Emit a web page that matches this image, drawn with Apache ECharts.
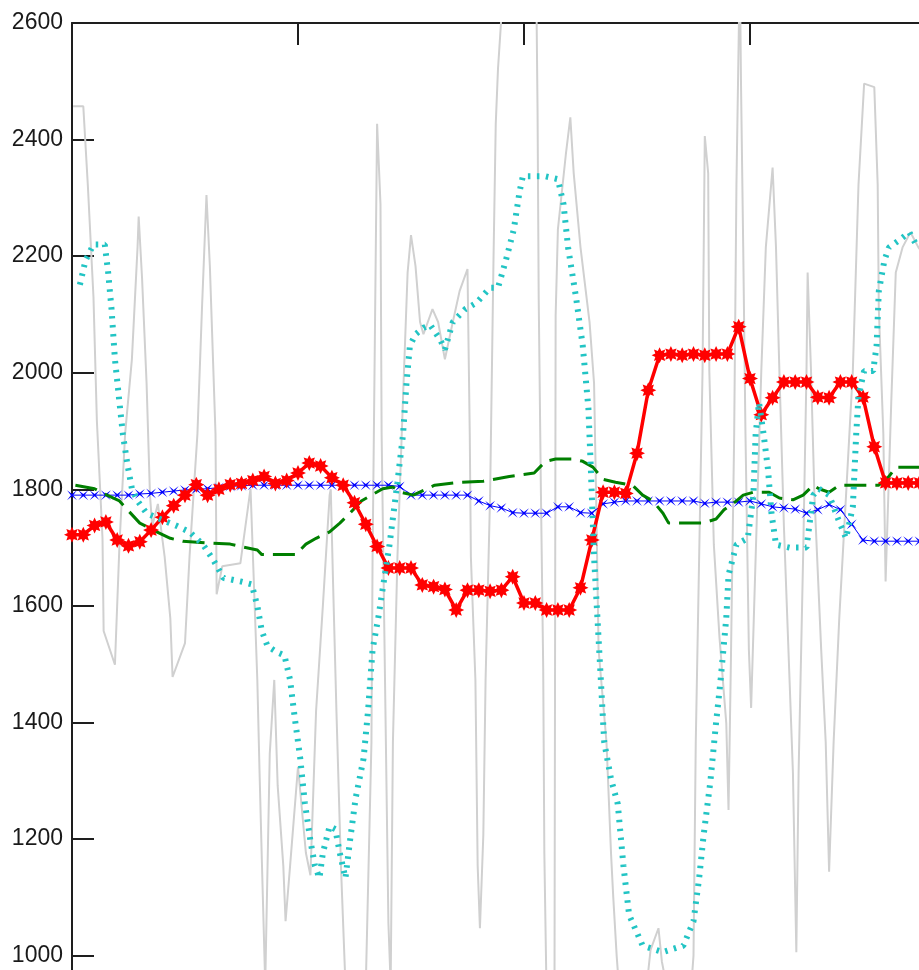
<!DOCTYPE html>
<html>
<head>
<meta charset="utf-8">
<script src="https://cdn.jsdelivr.net/npm/echarts@6.0.0/dist/echarts.min.js"></script>
<style>
html,body{margin:0;padding:0;background:#fff;overflow:hidden;}
#main{width:1000px;height:1100px;}
</style>
</head>
<body>
<div id="main"></div>
<script>
// y ticks
var yTicks = [1000, 1200, 1400, 1600, 1800, 2000, 2200, 2400, 2600];
// x ticks (top axis, unlabeled)
var xTicks = [0, 20, 40, 60, 80];

// red (*), one point per sample
var redVals = [1722,1722,1738,1744,1713,1703,1710,1730,1752,1772,
  1790,1808,1790,1800,1808,1810,1815,1822,1810,1815,
  1828,1845,1840,1820,1807,1777,1740,1702,1665,1665,
  1665,1636,1633,1628,1593,1627,1627,1625,1627,1650,
  1605,1605,1593,1593,1593,1631,1713,1795,1795,1793,
  1862,1970,2030,2032,2030,2032,2030,2032,2032,2079,
  1990,1928,1957,1984,1984,1984,1958,1957,1984,1984,
  1958,1873,1811,1811,1811,1811];

// blue (x), one point per sample
var blueVals = [1790,1790,1790,1790,1790,1790,1792,1793,1795,1797,
  1799,1800,1801,1803,1805,1806,1807,1807,1807,1807,
  1807,1807,1807,1807,1807,1807,1807,1807,1807,1805,
  1790,1790,1790,1790,1790,1790,1780,1772,1768,1760,
  1759,1759,1759,1770,1770,1760,1759,1775,1778,1780,
  1780,1780,1780,1780,1780,1780,1776,1778,1778,1778,
  1780,1775,1770,1768,1766,1759,1765,1774,1765,1740,
  1713,1711,1711,1711,1711,1711];

// gray (thin) line
var grayX = [0.1,1.0,1.4,1.9,2.2,2.7,2.8,3.8,4.2,4.7,
  5.3,5.8,5.9,6.2,6.6,6.9,7.1,7.6,8.2,8.7,
  8.9,10.0,10.4,11.1,11.5,11.9,12.2,12.7,12.8,13.3,
  14.9,15.8,15.9,16.4,16.6,16.8,17.1,17.5,17.9,18.2,
  18.7,18.9,19.3,20.0,20.7,21.1,21.6,22.2,22.8,22.9,
  23.1,23.4,23.8,24.2,25.5,26.0,26.5,26.6,26.8,27.0,
  27.3,27.4,27.7,28.0,28.2,28.4,28.8,29.3,29.7,30.0,
  30.4,30.8,31.1,31.9,32.4,33.0,33.7,34.3,35.0,35.2,
  35.3,35.7,35.9,36.1,36.4,36.6,37.0,37.3,37.5,37.7,
  38.1,41.1,41.2,41.3,41.5,41.7,41.8,42.0,42.7,42.8,
  43.0,43.7,44.1,44.4,45.0,45.8,46.2,46.4,46.6,47.3,
  47.7,47.9,48.2,48.5,50.7,51.2,51.9,52.2,52.9,54.7,
  55.0,55.2,55.5,55.8,56.0,56.3,56.4,56.8,57.3,57.9,
  58.1,58.3,58.6,58.8,59.1,59.2,59.4,59.6,59.9,60.1,
  60.5,61.0,61.4,62.0,62.3,62.6,63.0,63.5,63.8,64.1,
  64.3,64.7,65.0,65.1,65.4,65.7,66.3,66.7,67.0,67.4,
  67.9,68.5,69.1,69.6,70.1,71.0,71.3,71.4,71.8,72.0,
  72.5,72.9,73.5,74.2,74.9,75.5];
var grayY = [2457,2457,2322,2130,1918,1716,1557,1499,1705,1895,
  2023,2215,2268,2162,1982,1790,1737,1775,1684,1579,
  1478,1536,1684,1895,2109,2305,2183,1895,1620,1668,
  1673,1801,1800,1473,1313,1164,950,1346,1473,1292,
  1154,1059,1154,1324,1176,1138,1420,1600,1790,1800,
  1642,1420,1154,950,880,950,1366,1684,2055,2427,
  2289,1895,1473,1056,950,1366,1684,1960,2172,2236,
  2183,2087,2066,2109,2087,2023,2087,2140,2178,1895,
  1684,1473,1154,1047,1207,1473,1790,2193,2427,2522,
  2640,2640,2448,2130,1790,1493,1176,930,950,2098,
  2246,2374,2438,2342,2215,2087,1982,1770,1525,1366,
  1176,1100,1000,920,920,1010,1047,990,920,920,
  1000,1366,1684,2003,2406,2342,2003,1705,1546,1399,
  1250,1493,1895,2322,2700,2502,2215,1895,1525,1425,
  1684,2003,2215,2352,2215,2003,1737,1473,1313,1006,
  1313,1684,2003,2172,2003,1790,1525,1366,1144,1366,
  1579,1790,2003,2322,2496,2490,2322,2109,1895,1642,
  1949,2172,2215,2241,2215,2200];

// cyan dotted line
var cyanX = [0.7,1.2,1.9,2.9,3.2,3.5,3.8,4.2,4.5,4.9,
  5.3,5.8,6.6,7.8,9.3,10.4,11.6,12.5,13.4,14.9,
  15.9,16.4,16.8,17.3,18.1,18.8,19.3,19.7,20.2,20.6,
  21.1,21.5,21.9,22.2,22.8,23.3,23.7,24.2,24.6,25.1,
  25.8,26.2,26.6,27.1,27.5,28.1,28.8,29.3,29.6,29.9,
  30.4,31.1,31.7,32.6,33.0,33.7,34.8,35.8,37.0,37.7,
  38.4,39.1,39.6,39.9,41.9,43.0,43.5,43.9,44.6,45.2,
  45.7,45.9,46.2,46.5,46.8,47.1,47.7,48.3,48.8,49.3,
  50.5,52.3,54.1,55.0,55.5,55.9,56.5,57.0,57.4,57.9,
  58.1,58.8,59.8,60.3,60.5,60.8,61.2,61.6,61.9,62.3,
  63.5,65.0,65.6,66.1,67.0,67.8,68.5,69.1,69.4,69.6,
  70.1,70.9,71.2,71.4,71.9,72.3,73.1,74.1,74.7,75.5];
var cyanY = [2151,2193,2220,2220,2172,2109,2023,1949,1895,1843,
  1801,1780,1759,1749,1737,1727,1705,1679,1648,1642,
  1637,1600,1557,1531,1521,1515,1473,1410,1338,1263,
  1197,1154,1133,1176,1222,1217,1176,1133,1197,1270,
  1338,1420,1525,1579,1630,1705,1812,1895,1982,2046,
  2066,2077,2082,2056,2040,2087,2109,2120,2146,2146,
  2193,2246,2310,2337,2337,2332,2289,2215,2130,2046,
  1939,1843,1684,1579,1473,1366,1303,1260,1154,1070,
  1017,1006,1017,1059,1133,1207,1300,1400,1473,1579,
  1653,1705,1716,1790,1895,1949,1895,1833,1759,1705,
  1700,1700,1790,1801,1790,1749,1716,1770,1895,1960,
  2003,2003,2046,2140,2193,2215,2226,2241,2220,2220];

// green dashed line
var greenX = [0.3,2.0,3.1,4.2,4.9,6.0,7.5,8.7,9.8,11.9,
  14.0,15.1,16.4,16.8,19.8,20.7,21.6,22.8,23.7,24.6,
  25.6,26.5,27.5,28.4,29.1,30.2,32.1,34.3,36.4,38.7,
  40.9,41.9,42.8,44.3,45.2,46.1,47.0,48.1,49.6,50.5,
  51.4,52.3,52.8,55.8,57.0,57.7,58.8,59.4,60.3,61.7,
  62.6,63.8,64.7,65.6,66.1,67.0,67.9,71.4,72.3,72.9,
  75.5];
var greenY = [1807,1801,1790,1780,1765,1742,1727,1716,1711,1708,
  1706,1701,1696,1688,1688,1706,1716,1727,1742,1759,
  1780,1790,1801,1804,1795,1790,1807,1812,1814,1822,
  1828,1848,1852,1852,1848,1838,1817,1812,1807,1790,
  1780,1759,1742,1742,1749,1765,1780,1790,1795,1795,
  1785,1782,1790,1807,1801,1795,1807,1807,1822,1838,
  1838];

function pairs(xs, ys) {
  var out = [];
  for (var k = 0; k < Math.min(xs.length, ys.length); k++) out.push([xs[k], ys[k]]);
  return out;
}
function indexed(vals) {
  return vals.map(function (v, i) { return [i, v]; });
}
// star-shaped marker outline: n arms, inner radius ratio r, rotation rot
function starPath(n, r, rot) {
  var pts = [];
  for (var k = 0; k < 2 * n; k++) {
    var a = rot + k * Math.PI / n;
    var rad = (k % 2 === 0) ? 10 : 10 * r;
    pts.push((10 + rad * Math.cos(a)).toFixed(2) + ',' + (10 + rad * Math.sin(a)).toFixed(2));
  }
  return 'path://M' + pts.join('L') + 'Z';
}

var chart = echarts.init(document.getElementById('main'), null, {renderer: 'canvas'});
var axisColor = '#1e1e1e';
var option = {
  animation: false,
  backgroundColor: '#fff',
  grid: {left: 72, top: 23, width: 904, height: 1049.2, containLabel: false, outerBoundsMode: 'none'},
  xAxis: {
    type: 'value', position: 'top', min: xTicks[0], max: xTicks[xTicks.length - 1], interval: 20,
    axisLine: {show: true, onZero: false, lineStyle: {color: axisColor, width: 2}},
    axisTick: {show: true, inside: true, length: 22, lineStyle: {color: axisColor, width: 2}},
    axisLabel: {show: false},
    splitLine: {show: false}
  },
  yAxis: {
    type: 'value', min: 800, max: yTicks[yTicks.length - 1], interval: 200,
    axisLine: {show: true, onZero: false, lineStyle: {color: axisColor, width: 2}},
    axisTick: {show: true, inside: true, length: 22, lineStyle: {color: axisColor, width: 2}},
    axisLabel: {
      show: true, margin: 9, color: '#1a1a1a', fontSize: 23, fontFamily: 'Liberation Sans, Arial, sans-serif',
      formatter: function (v) { return yTicks.indexOf(v) >= 0 ? String(v) : ''; }
    },
    splitLine: {show: false}
  },
  series: [
    {
      name: 'gray', type: 'line', data: pairs(grayX, grayY), showSymbol: false,
      lineStyle: {color: '#d0d0d0', width: 2}, z: 1
    },
    {
      name: 'blue', type: 'line', data: indexed(blueVals),
      symbol: starPath(4, 0.16, Math.PI / 4), symbolSize: 10,
      itemStyle: {color: '#0000ff'},
      lineStyle: {color: '#0000ff', width: 1}, z: 2
    },
    {
      name: 'green', type: 'line', data: pairs(greenX, greenY), showSymbol: false,
      lineStyle: {color: '#007f00', width: 3, type: [22, 9], cap: 'butt'}, z: 3
    },
    {
      name: 'red', type: 'line', data: indexed(redVals),
      symbol: starPath(8, 0.58, 0), symbolSize: 16,
      itemStyle: {color: '#ff0000'},
      lineStyle: {color: '#ff0000', width: 3.5}, z: 4
    },
    {
      name: 'cyan', type: 'line', data: pairs(cyanX, cyanY), showSymbol: false,
      lineStyle: {color: '#22c4c4', width: 6, type: [2.5, 6.5], cap: 'butt'}, z: 5
    }
  ]
};
chart.setOption(option);
</script>
</body>
</html>
